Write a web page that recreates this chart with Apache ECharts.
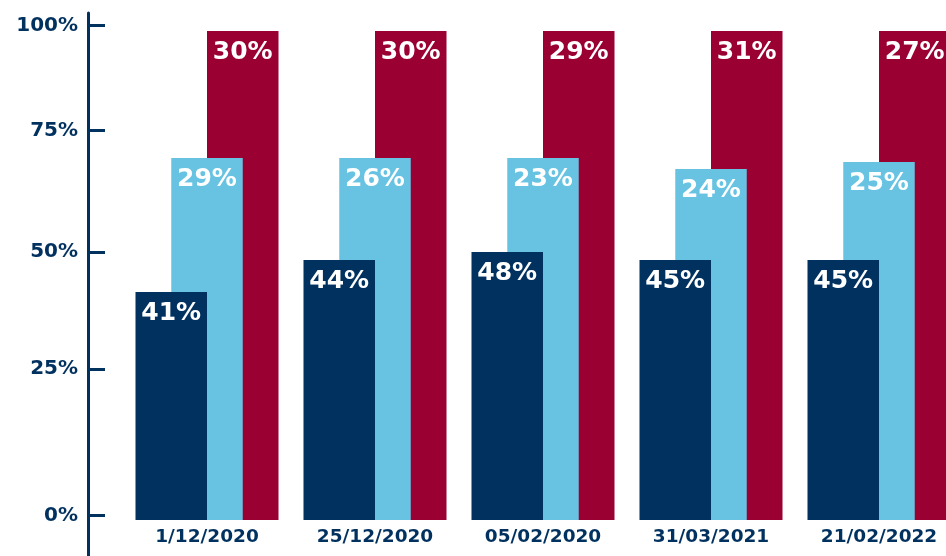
<!DOCTYPE html>
<html>
<head>
<meta charset="utf-8">
<script src="https://cdn.jsdelivr.net/npm/echarts@6/dist/echarts.min.js"></script>
<style>
html,body{margin:0;padding:0;background:#fff;}
#chart{width:946px;height:556px;}
</style>
</head>
<body>
<div id="chart"></div>
<script>
// Categories (dates)
var categories = ['1/12/2020', '25/12/2020', '05/02/2020', '31/03/2021', '21/02/2022'];

// Printed segment shares (%)
var labelsDark  = [41, 44, 48, 45, 45];
var labelsLight = [29, 26, 23, 24, 25];
var labelsRed   = [30, 30, 29, 31, 27];

// Bar heights as drawn on the chart's axis (axis units)
var heightsDark  = [45.6, 52.0, 53.6, 52.0, 52.0];
var heightsLight = [72.4, 72.4, 72.4, 70.2, 71.6];
var heightsRed   = [97.8, 97.8, 97.8, 97.8, 97.8];

// Y-axis tick labels and their positions on the axis
var tickLabels    = ['0%', '25%', '50%', '75%', '100%'];
var tickPositions = [0.86, 30.2, 53.6, 77.86, 98.86];

var NAVY = '#00315F';
var LIGHT = '#68C3E3';
var RED = '#9B0033';
var FONT = 'DejaVu Sans';

function mkData(heights, labels) {
  return heights.map(function (h, i) { return { value: h, pct: labels[i] }; });
}

function labelCfg() {
  return {
    show: true,
    position: 'insideTop',
    distance: 9,
    color: '#ffffff',
    fontFamily: FONT,
    fontWeight: 'bold',
    fontSize: 25,
    formatter: function (p) { return p.data.pct + '%'; }
  };
}

var chart = echarts.init(document.getElementById('chart'), null, { renderer: 'canvas' });
chart.setOption({
  animation: false,
  backgroundColor: '#ffffff',
  grid: { left: 123, width: 840, top: 13, bottom: 0, containLabel: false, outerBoundsMode: 'none' },
  xAxis: {
    type: 'category',
    data: categories,
    offset: -36,
    axisLine: { show: false, onZero: false },
    axisTick: { show: false },
    axisLabel: {
      interval: 0,
      margin: 8,
      color: NAVY,
      fontFamily: FONT,
      fontWeight: 'bold',
      fontSize: 18.5
    },
    splitLine: { show: false }
  },
  yAxis: {
    type: 'value',
    min: -7.2,
    max: 101.4,
    offset: 35,
    axisLine: { show: true, lineStyle: { color: NAVY, width: 3 } },
    axisTick: {
      show: true,
      inside: true,
      length: 17,
      customValues: tickPositions,
      lineStyle: { color: NAVY, width: 3 }
    },
    axisLabel: {
      show: true,
      margin: 10,
      customValues: tickPositions,
      color: NAVY,
      fontFamily: FONT,
      fontWeight: 'bold',
      fontSize: 20,
      formatter: function (v) {
        var best = 0, bd = Infinity;
        for (var i = 0; i < tickPositions.length; i++) {
          var d = Math.abs(tickPositions[i] - v);
          if (d < bd) { bd = d; best = i; }
        }
        return tickLabels[best];
      }
    },
    splitLine: { show: false }
  },
  series: [
    {
      name: 'dark', type: 'bar', barWidth: 71.5, barGap: '-50%', z: 4,
      itemStyle: { color: NAVY },
      label: labelCfg(),
      data: mkData(heightsDark, labelsDark)
    },
    {
      name: 'light', type: 'bar', barWidth: 71.5, barGap: '-50%', z: 3,
      itemStyle: { color: LIGHT },
      label: labelCfg(),
      data: mkData(heightsLight, labelsLight)
    },
    {
      name: 'red', type: 'bar', barWidth: 71.5, barGap: '-50%', z: 2,
      itemStyle: { color: RED },
      label: labelCfg(),
      data: mkData(heightsRed, labelsRed)
    }
  ]
});
</script>
</body>
</html>
